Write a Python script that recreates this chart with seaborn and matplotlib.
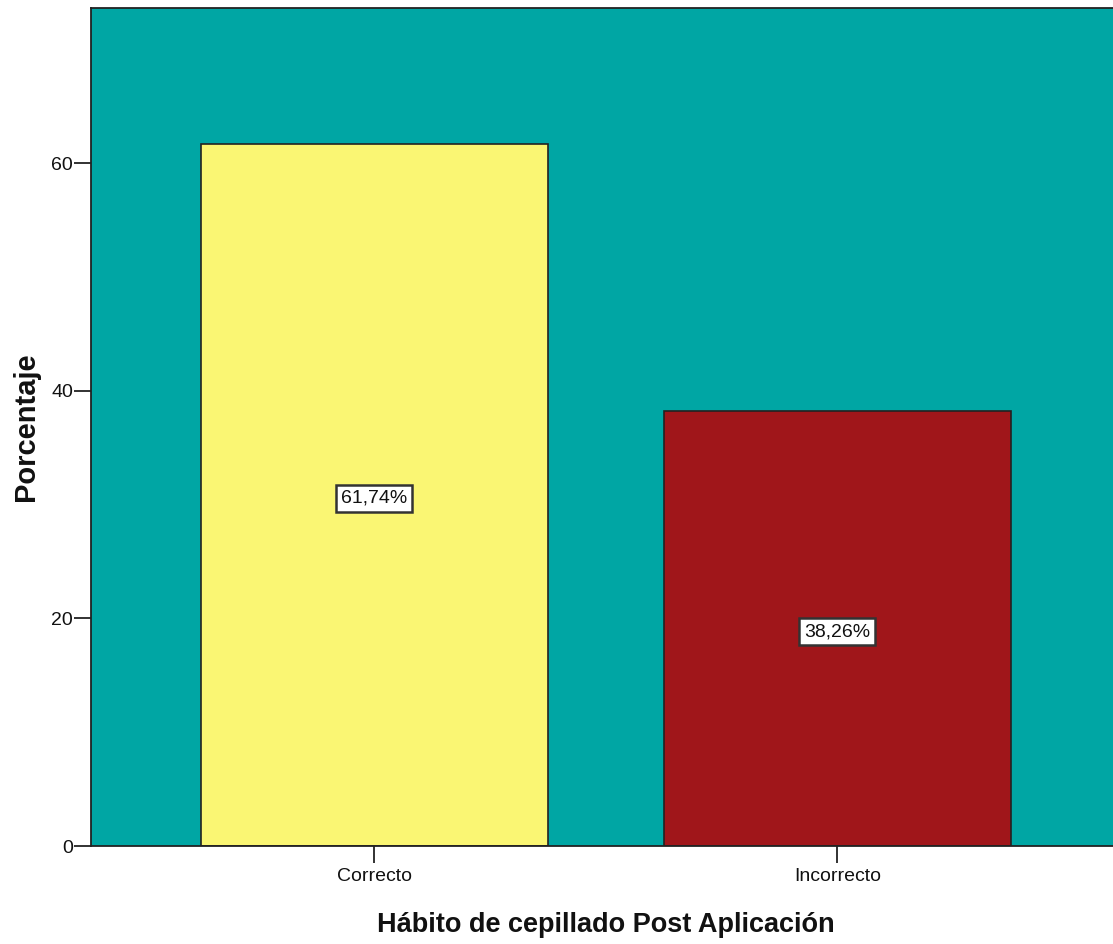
import matplotlib
matplotlib.use("Agg")
import matplotlib.pyplot as plt
import seaborn as sns
import pandas as pd

# Data
categorias = ["Correcto", "Incorrecto"]
porcentajes = [61.74, 38.26]
etiquetas = ["61,74%", "38,26%"]
colores = ["#FAF673", "#A0161A"]
ticks_y = [0, 20, 40, 60]

sns.set_theme(style="white")
plt.rcParams["font.family"] = ["Liberation Sans", "DejaVu Sans"]

df = pd.DataFrame({"Habito": categorias, "Porcentaje": porcentajes})

fig = plt.figure(figsize=(11.13, 9.44), dpi=100)
ax = fig.add_axes([0.0818, 0.1038, 0.925, 0.8877])
ax.set_facecolor("#00A6A4")

sns.barplot(data=df, x="Habito", y="Porcentaje", hue="Habito",
            palette=colores, width=0.75, edgecolor="#222222", linewidth=1.2,
            saturation=1, legend=False, ax=ax)

# value labels in white boxes at mid-height of each bar
for i, (v, t) in enumerate(zip(porcentajes, etiquetas)):
    ax.text(i, v / 2 - 0.3, t, ha="center", va="center", fontsize=14, color="#111111",
            bbox=dict(boxstyle="square,pad=0.25", facecolor="white",
                      edgecolor="#333333", linewidth=1.8))

ax.set_xlim(-0.612, 1.612)
ax.set_ylim(0, 73.65)
ax.set_yticks(ticks_y)
ax.set_yticklabels([str(t) for t in ticks_y])

for s in ["left", "bottom", "top"]:
    ax.spines[s].set_color("#222222")
    ax.spines[s].set_linewidth(1.3)
ax.spines["right"].set_visible(False)

ax.tick_params(axis="both", which="major", direction="out", length=12, width=1.3,
               color="#222222", labelsize=14, labelcolor="#111111", left=True, bottom=True)
ax.tick_params(axis="y", pad=1)
ax.tick_params(axis="x", pad=4)

ax.set_xlabel("Hábito de cepillado Post Aplicación", fontsize=19.5, fontweight="bold",
              labelpad=19, color="#111111")
ax.set_ylabel("Porcentaje", fontsize=21, fontweight="bold", labelpad=8, color="#111111")

fig.savefig("out.png", dpi=100)
